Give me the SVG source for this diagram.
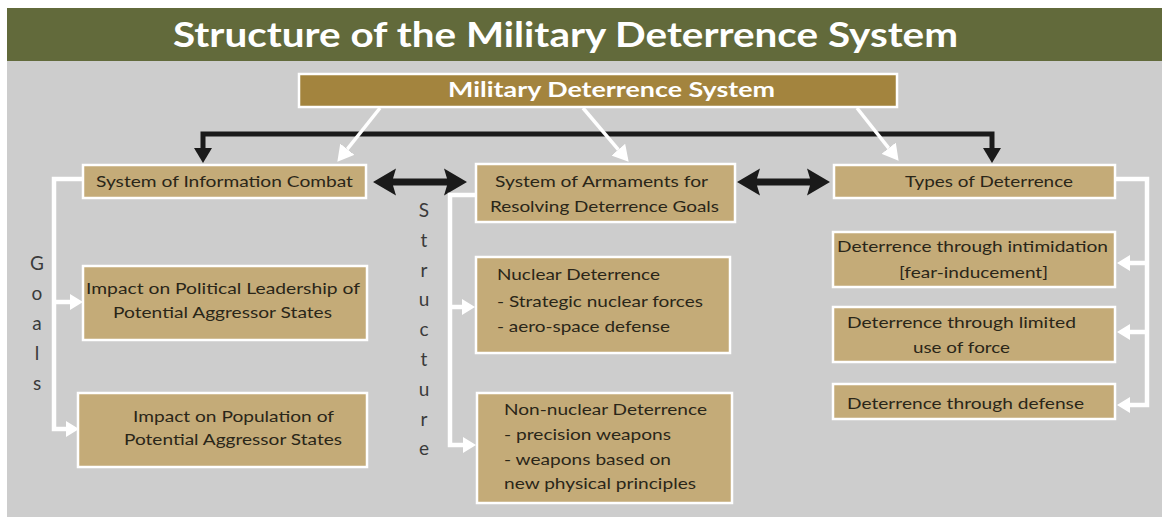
<svg xmlns="http://www.w3.org/2000/svg" width="1162" height="523" viewBox="0 0 1162 523">
<defs>
<style>
.box{fill:#c4ab78;stroke:#ffffff;stroke-width:2.5}
.t{font-family:Lato,"Open Sans","Liberation Sans",sans-serif;font-size:16px;fill:#2a2618}
.c{text-anchor:middle}
.v{font-family:Lato,"Open Sans","Liberation Sans",sans-serif;font-size:19px;fill:#3a3a3a;text-anchor:middle}
.wl{fill:none;stroke:#ffffff;stroke-width:4.5}
.bl{fill:none;stroke:#1a1a1a;stroke-width:5}
</style>
<marker id="wh" markerUnits="userSpaceOnUse" markerWidth="16" markerHeight="18" refX="0" refY="9" orient="auto" viewBox="0 0 16 18">
<path d="M0,0 L16,9 L0,18 Z" fill="#ffffff"/>
</marker>
<marker id="wh2" markerUnits="userSpaceOnUse" markerWidth="13" markerHeight="16" refX="0" refY="8" orient="auto" viewBox="0 0 13 16">
<path d="M0,0 L13,8 L0,16 Z" fill="#ffffff"/>
</marker>
</defs>
<rect x="0" y="0" width="1162" height="523" fill="#ffffff"/>
<rect x="7" y="61" width="1155" height="456" fill="#cdcdcd"/>
<g id="title">
<rect x="7" y="8" width="1155" height="53" fill="#626a3b"/>
<text x="565.5" y="47" font-family="Lato,'Open Sans','Liberation Sans',sans-serif" font-size="34" font-weight="bold" fill="#ffffff" text-anchor="middle" textLength="785" lengthAdjust="spacingAndGlyphs">Structure of the Military Deterrence System</text>
</g>
<g id="connectors">
<path class="bl" d="M203,149 V134 H992 V149"/>
<path d="M194,148 L212,148 L203,163 Z" fill="#1a1a1a"/>
<path d="M983,148 L1001,148 L992,163 Z" fill="#1a1a1a"/>
<line x1="380" y1="108" x2="347.3" y2="149.2" stroke="#ffffff" stroke-width="3.5" marker-end="url(#wh)"/>
<line x1="583" y1="108" x2="618.3" y2="149.6" stroke="#ffffff" stroke-width="3.5" marker-end="url(#wh)"/>
<line x1="857" y1="108" x2="888.7" y2="148.2" stroke="#ffffff" stroke-width="3.5" marker-end="url(#wh)"/>
<path d="M373,182 L396,168.5 L393,178.5 L447,178.5 L444,168.5 L467,182 L444,195.5 L447,185.5 L393,185.5 L396,195.5 Z" fill="#1a1a1a"/>
<path d="M737,182 L760,168.5 L757,178.5 L810,178.5 L807,168.5 L830,182 L807,195.5 L810,185.5 L757,185.5 L760,195.5 Z" fill="#1a1a1a"/>
<path class="wl" d="M83,179 H54 V429 H66" marker-end="url(#wh2)"/>
<path class="wl" d="M54,302 H70" marker-end="url(#wh2)"/>
<path class="wl" d="M476,195 H450 V445 H463" marker-end="url(#wh2)"/>
<path class="wl" d="M450,307 H462" marker-end="url(#wh2)"/>
<path class="wl" d="M1115,179 H1147 V405 H1130" marker-end="url(#wh2)"/>
<path class="wl" d="M1147,263 H1130" marker-end="url(#wh2)"/>
<path class="wl" d="M1147,332 H1130" marker-end="url(#wh2)"/>
</g>
<g id="labels">
<text class="v" x="37" y="270">G</text>
<text class="v" x="37" y="300">o</text>
<text class="v" x="37" y="330">a</text>
<text class="v" x="37" y="360">l</text>
<text class="v" x="37" y="390">s</text>
<text class="v" x="424" y="217">S</text>
<text class="v" x="424" y="247">t</text>
<text class="v" x="424" y="277">r</text>
<text class="v" x="424" y="306">u</text>
<text class="v" x="424" y="336">c</text>
<text class="v" x="424" y="366">t</text>
<text class="v" x="424" y="396">u</text>
<text class="v" x="424" y="426">r</text>
<text class="v" x="424" y="455">e</text>
</g>
<g id="n-top">
<rect x="299" y="74" width="598" height="33" fill="#a3843e" stroke="#ffffff" stroke-width="2.5"/>
<text x="611.5" y="97" font-family="Lato,'Open Sans','Liberation Sans',sans-serif" font-size="21" font-weight="bold" fill="#ffffff" text-anchor="middle" textLength="327" lengthAdjust="spacingAndGlyphs">Military Deterrence System</text>
</g>
<g id="n-info">
<rect class="box" x="83" y="165" width="283" height="33"/>
<text class="t c" x="224.5" y="187" textLength="257" lengthAdjust="spacingAndGlyphs">System of Information Combat</text>
</g>
<g id="n-arm">
<rect class="box" x="476" y="164" width="259" height="58"/>
<text class="t c" x="601.5" y="187" textLength="213" lengthAdjust="spacingAndGlyphs">System of Armaments for</text>
<text class="t c" x="604.5" y="212" textLength="229" lengthAdjust="spacingAndGlyphs">Resolving Deterrence Goals</text>
</g>
<g id="n-types">
<rect class="box" x="834" y="165" width="281" height="33"/>
<text class="t c" x="989" y="187" textLength="168" lengthAdjust="spacingAndGlyphs">Types of Deterrence</text>
</g>
<g id="n-pol">
<rect class="box" x="83" y="266" width="284" height="74"/>
<text class="t c" x="223" y="294" textLength="274" lengthAdjust="spacingAndGlyphs">Impact on Political Leadership of</text>
<text class="t c" x="222.5" y="318" textLength="219" lengthAdjust="spacingAndGlyphs">Potential Aggressor States</text>
</g>
<g id="n-pop">
<rect class="box" x="78" y="393" width="289" height="74"/>
<text class="t c" x="233.5" y="422" textLength="201" lengthAdjust="spacingAndGlyphs">Impact on Population of</text>
<text class="t c" x="233" y="445" textLength="218" lengthAdjust="spacingAndGlyphs">Potential Aggressor States</text>
</g>
<g id="n-nuc">
<rect class="box" x="476" y="257" width="254" height="96"/>
<text class="t" x="497" y="280" textLength="163" lengthAdjust="spacingAndGlyphs">Nuclear Deterrence</text>
<text class="t" x="497" y="307" textLength="206" lengthAdjust="spacingAndGlyphs">- Strategic nuclear forces</text>
<text class="t" x="497" y="332" textLength="173" lengthAdjust="spacingAndGlyphs">- aero-space defense</text>
</g>
<g id="n-nonnuc">
<rect class="box" x="477" y="393" width="255" height="110"/>
<text class="t" x="504" y="415" textLength="203" lengthAdjust="spacingAndGlyphs">Non-nuclear Deterrence</text>
<text class="t" x="504" y="440" textLength="167" lengthAdjust="spacingAndGlyphs">- precision weapons</text>
<text class="t" x="504" y="465" textLength="167" lengthAdjust="spacingAndGlyphs">- weapons based on</text>
<text class="t" x="504" y="489" textLength="192" lengthAdjust="spacingAndGlyphs">new physical principles</text>
</g>
<g id="n-intim">
<rect class="box" x="833" y="232" width="282" height="55"/>
<text class="t c" x="972.5" y="252" textLength="271" lengthAdjust="spacingAndGlyphs">Deterrence through intimidation</text>
<text class="t c" x="973.5" y="278" textLength="149" lengthAdjust="spacingAndGlyphs">[fear-inducement]</text>
</g>
<g id="n-limited">
<rect class="box" x="833" y="307" width="282" height="55"/>
<text class="t c" x="961.5" y="328" textLength="229" lengthAdjust="spacingAndGlyphs">Deterrence through limited</text>
<text class="t c" x="961.5" y="353" textLength="97" lengthAdjust="spacingAndGlyphs">use of force</text>
</g>
<g id="n-defense">
<rect class="box" x="833" y="384" width="282" height="35"/>
<text class="t c" x="965.5" y="409" textLength="237" lengthAdjust="spacingAndGlyphs">Deterrence through defense</text>
</g>
</svg>
